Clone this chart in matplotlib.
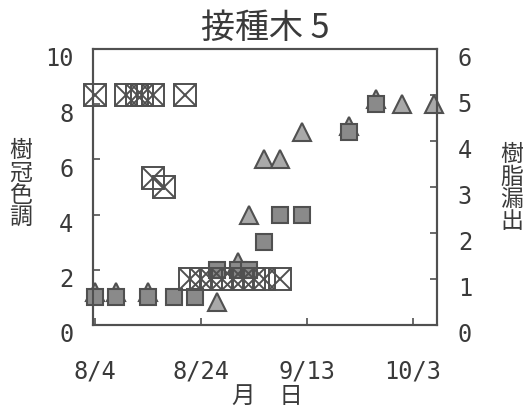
import matplotlib
matplotlib.use('Agg')
import matplotlib.pyplot as plt
import datetime as dt
from matplotlib.transforms import ScaledTranslation

plt.rcParams['font.family'] = ['DejaVu Sans Mono', 'Noto Sans CJK JP']

# ---- data ----
square_dates = ['8/4', '8/8', '8/14', '8/19', '8/23', '8/27', '8/31', '9/2', '9/5', '9/8', '9/12', '9/21', '9/26']
square_vals = [1, 1, 1, 1, 1, 2, 2, 2, 3, 4, 4, 7, 8]

tri_dates = ['8/4', '8/8', '8/14', '8/27', '8/31', '9/2', '9/5', '9/8', '9/12', '9/21', '9/26', '10/1', '10/7']
tri_vals = [1.2, 1.2, 1.2, 0.85, 2.3, 4, 6, 6, 7, 7.2, 8.2, 8, 8]

resin_dates = ['8/4', '8/10', '8/12', '8/13', '8/15', '8/21', '8/15', '8/17',
               '8/22', '8/24', '8/26', '8/28', '8/30', '9/1', '9/3', '9/5', '9/8']
resin_vals = [5, 5, 5, 5, 5, 5, 3.2, 3, 1, 1, 1, 1, 1, 1, 1, 1, 1]

xtick_labels = ['8/4', '8/24', '9/13', '10/3']
left_ticks = [0, 2, 4, 6, 8, 10]
right_ticks = [0, 1, 2, 3, 4, 5, 6]

base = dt.date(2000, 8, 4)


def day(s):
    m, d = map(int, s.split('/'))
    return (dt.date(2000, m, d) - base).days


TXT = '#3a3a3a'
EDGE = '#505050'

fig = plt.figure(figsize=(5.24, 4.10), dpi=100)
ax = fig.add_axes([93 / 524, 1 - 326 / 410, (437 - 93) / 524, (326 - 50) / 410])
ax2 = ax.twinx()

ax.set_xlim(-0.3, 64.5)
ax.set_ylim(0, 10)
ax2.set_ylim(0, 6)

ax.plot([day(d) for d in tri_dates], tri_vals, linestyle='none', marker='^', ms=13,
        mfc='#a9a9a9', mec=EDGE, mew=1.5, zorder=2, clip_on=False)
ax.plot([day(d) for d in square_dates], square_vals, linestyle='none', marker='s', ms=12,
        mfc='#8a8a8a', mec=EDGE, mew=1.5, zorder=3, clip_on=False)

rx = [day(d) for d in resin_dates]
ax2.plot(rx, resin_vals, linestyle='none', marker='s', ms=16.5, mfc='none', mec=EDGE,
         mew=1.4, zorder=4, clip_on=False)
ax2.plot(rx, resin_vals, linestyle='none', marker='x', ms=16.5, mec=EDGE,
         mew=1.4, zorder=4, clip_on=False)

ax.set_xticks([day(s) for s in xtick_labels])
ax.set_xticklabels(xtick_labels)
ax.set_yticks(left_ticks)
ax2.set_yticks(right_ticks)

for a in (ax, ax2):
    for sp in a.spines.values():
        sp.set_color(EDGE)
        sp.set_linewidth(1.5)

ax.tick_params(axis='x', direction='in', length=5, width=1.2, color=EDGE, top=False,
               labelsize=17, pad=24, labelcolor=TXT)
ax.tick_params(axis='y', direction='in', length=5, width=1.2, color=EDGE, right=False,
               labelsize=17, pad=14, labelcolor=TXT)
ax2.tick_params(axis='y', direction='in', length=5, width=1.2, color=EDGE,
                labelsize=17, pad=15, labelcolor=TXT)

off = ScaledTranslation(0, -0.07, fig.dpi_scale_trans)
for lab in ax.get_yticklabels() + ax2.get_yticklabels():
    lab.set_transform(lab.get_transform() + off)

cjk = ['Noto Sans CJK JP', 'DejaVu Sans']
fig.text(265 / 524, 1 - 28 / 410, '接種木 5', fontsize=24.5, ha='center', va='center',
         color=TXT, family=cjk)
fig.text(21 / 524, 1 - 184 / 410, '樹\n冠\n色\n調', fontsize=16.5, ha='center', va='center',
         linespacing=0.95, color=TXT, family=cjk)
fig.text(512 / 524, 1 - 188 / 410, '樹\n脂\n漏\n出', fontsize=16.5, ha='center', va='center',
         linespacing=0.95, color=TXT, family=cjk)
fig.text(267 / 524, 1 - 396 / 410, '月　日', fontsize=17, ha='center', va='center',
         color=TXT, family=cjk)

fig.savefig('out.png', dpi=100)
